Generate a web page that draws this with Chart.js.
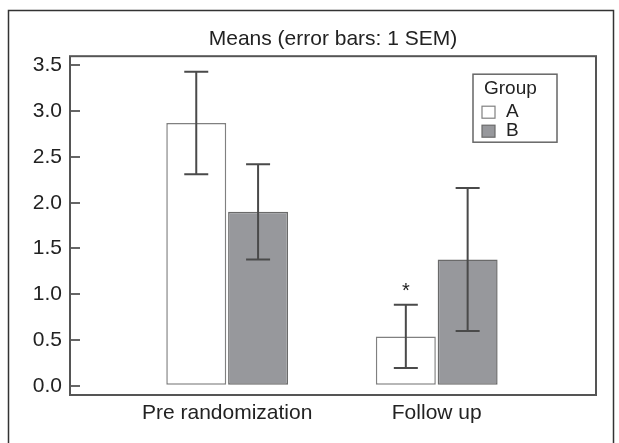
<!DOCTYPE html>
<html>
<head>
<meta charset="utf-8">
<script src="https://cdn.jsdelivr.net/npm/chart.js@4.4.1/dist/chart.umd.min.js"></script>
<style>
    html, body { margin: 0; padding: 0; background: #ffffff; }
</style>
</head>
<body>
<canvas id="means-chart" width="619" height="443"></canvas>
<script>
const categories = ['Pre randomization', 'Follow up'];
const groupNames = ['A', 'B'];
const meansA = [2.87, 0.54];
const meansB = [1.90, 1.38];
const semA = [0.56, 0.345];
const semB = [0.52, 0.78];
const marksA = ['', '*'];
const marksB = ['', ''];
const yTicks = [0, 0.5, 1.0, 1.5, 2.0, 2.5, 3.0, 3.5];

const FONT = 'Liberation Sans, Arial, sans-serif';
const TEXT = '#222222';

// outer frame + box around the plot area
const framePlugin = {
    id: 'framePlugin',
    beforeDraw(chart) {
        const ctx = chart.ctx;
        ctx.save();
        ctx.strokeStyle = '#333333';
        ctx.lineWidth = 1.5;
        ctx.strokeRect(8.5, 10.5, 605, 460);
        ctx.restore();
    },
    afterDraw(chart) {
        const {ctx, chartArea: a} = chart;
        ctx.save();
        ctx.strokeStyle = '#555555';
        ctx.lineWidth = 2;
        ctx.strokeRect(a.left, a.top, a.right - a.left, a.bottom - a.top);
        ctx.restore();
    }
};

// error bars (mean +/- 1 SEM) and significance marks
const errorBars = {
    id: 'errorBars',
    afterDatasetsDraw(chart) {
        const ctx = chart.ctx;
        const yScale = chart.scales.y;
        ctx.save();
        chart.data.datasets.forEach((ds, i) => {
            const meta = chart.getDatasetMeta(i);
            meta.data.forEach((bar, j) => {
                const mean = ds.data[j].y;
                const yTop = yScale.getPixelForValue(mean + ds.sem[j]);
                const yBot = yScale.getPixelForValue(mean - ds.sem[j]);
                const x = bar.x;
                ctx.strokeStyle = '#4a4a4a';
                ctx.lineWidth = 2;
                ctx.beginPath();
                ctx.moveTo(x, yTop);
                ctx.lineTo(x, yBot);
                ctx.moveTo(x - 12, yTop);
                ctx.lineTo(x + 12, yTop);
                ctx.moveTo(x - 12, yBot);
                ctx.lineTo(x + 12, yBot);
                ctx.stroke();
                if (ds.marks[j]) {
                    ctx.fillStyle = TEXT;
                    ctx.font = '20px ' + FONT;
                    ctx.textAlign = 'center';
                    ctx.textBaseline = 'middle';
                    ctx.fillText(ds.marks[j], x, yTop - 13);
                }
            });
        });
        ctx.restore();
    }
};

// boxed legend with a "Group" heading
const groupLegend = {
    id: 'groupLegend',
    afterDraw(chart) {
        const {ctx, chartArea: a} = chart;
        const right = a.right - 39;
        const top = a.top + 18;
        const w = 84, h = 68;
        const left = right - w;
        ctx.save();
        ctx.strokeStyle = '#666666';
        ctx.lineWidth = 1.5;
        ctx.strokeRect(left, top, w, h);
        ctx.fillStyle = TEXT;
        ctx.font = '19px ' + FONT;
        ctx.textAlign = 'left';
        ctx.textBaseline = 'middle';
        ctx.fillText('Group', left + 11, top + 15);
        chart.data.datasets.forEach((ds, i) => {
            const cy = top + 38 + i * 19;
            ctx.fillStyle = ds.backgroundColor;
            ctx.fillRect(left + 9, cy - 6, 13, 12);
            ctx.strokeStyle = ds.borderColor;
            ctx.lineWidth = 1.2;
            ctx.strokeRect(left + 9, cy - 6, 13, 12);
            ctx.fillStyle = TEXT;
            ctx.fillText(ds.label, left + 33, cy);
        });
        ctx.restore();
    }
};

const toPoints = (values) => values.map((v, i) => ({x: i + 1, y: v}));

new Chart('means-chart', {
    type: 'bar',
    data: {
        datasets: [{
            label: groupNames[0],
            data: toPoints(meansA),
            sem: semA,
            marks: marksA,
            backgroundColor: '#ffffff',
            borderColor: '#808080',
            borderWidth: 1.5,
            borderSkipped: false,
            categoryPercentage: 0.59,
            barPercentage: 0.97
        }, {
            label: groupNames[1],
            data: toPoints(meansB),
            sem: semB,
            marks: marksB,
            backgroundColor: '#97989c',
            borderColor: '#6a6a6a',
            borderWidth: 1.5,
            borderSkipped: false,
            categoryPercentage: 0.59,
            barPercentage: 0.97
        }]
    },
    options: {
        responsive: false,
        animation: false,
        layout: {padding: {left: 0, right: 23, top: 0, bottom: 0}},
        plugins: {
            legend: {display: false},
            tooltip: {enabled: false},
            title: {
                display: true,
                fullSize: false,
                text: 'Means (error bars: 1 SEM)',
                color: TEXT,
                font: {family: FONT, size: 21, weight: 'normal'},
                padding: {top: 27, bottom: 4}
            }
        },
        scales: {
            x: {
                type: 'linear',
                min: 0.25,
                max: 2.76,
                offset: false,
                afterBuildTicks(scale) {
                    scale.ticks = categories.map((c, i) => ({value: i + 1}));
                },
                afterFit(scale) {
                    scale.height = 48;
                },
                grid: {display: false, drawTicks: false, offset: false},
                border: {display: false},
                ticks: {
                    color: TEXT,
                    font: {family: FONT, size: 21},
                    padding: 6,
                    maxRotation: 0,
                    callback: (v, i) => categories[i]
                }
            },
            y: {
                min: -0.1,
                max: 3.6,
                afterBuildTicks(scale) {
                    scale.ticks = yTicks.map(v => ({value: v}));
                },
                afterFit(scale) {
                    scale.width = 70;
                },
                grid: {
                    drawOnChartArea: false,
                    drawTicks: true,
                    tickLength: -10,
                    color: '#666666',
                    lineWidth: 2
                },
                border: {display: false},
                ticks: {
                    color: TEXT,
                    font: {family: FONT, size: 21},
                    padding: 18,
                    callback: (v) => v.toFixed(1)
                }
            }
        }
    },
    plugins: [framePlugin, errorBars, groupLegend]
});
</script>
</body>
</html>
